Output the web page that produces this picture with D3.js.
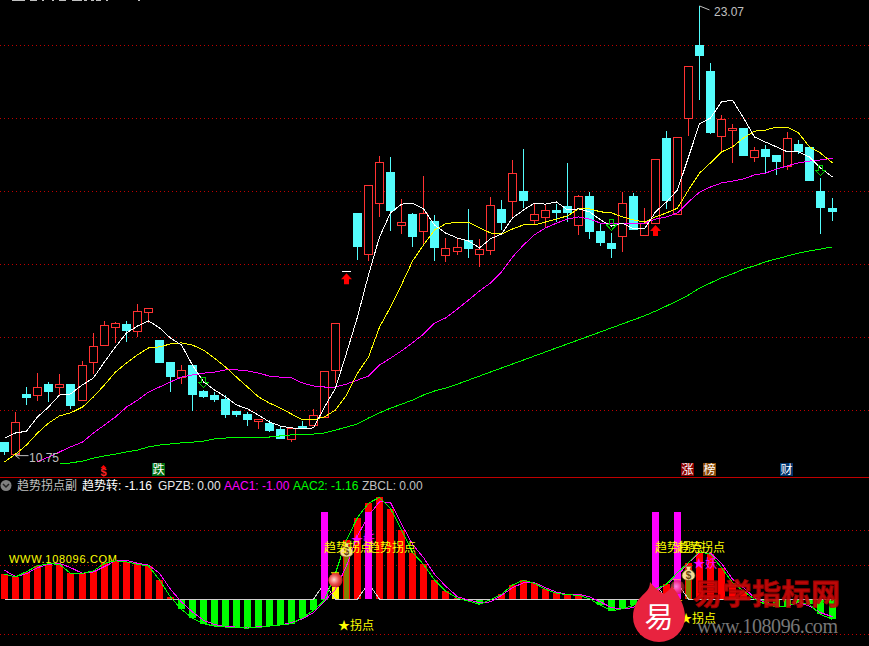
<!DOCTYPE html>
<html>
  <head>
    <meta charset="utf-8" />
    <title>趋势拐点副</title>
    <script src="https://d3js.org/d3.v7.min.js"></script>
    <style>

      body {
        margin: 0;
        background: #000;
      }

      text {
        font-family: "Liberation Sans", "Noto Sans CJK SC", sans-serif;
      }

      .cjk {
        font-family: "Noto Sans CJK SC", sans-serif;
      }

    </style>
  </head>
  <body>

    <svg id="viz"></svg>

    <script>

      // candles, one entry per trading day
      var opens = [
        11.11,10.78,12.44,12.39,12.71,12.62,12.71,12.25,13.32,13.76,
        14.28,14.36,14.15,14.69,13.92,13.32,12.89,13.23,12.52,12.41,
        12.30,11.97,11.89,11.69,11.64,11.48,11.22,11.57,11.58,11.80,
        13.09,15.80,17.40,16.26,17.68,18.52,17.07,17.37,16.91,17.18,
        16.23,16.36,16.66,16.25,16.39,17.51,17.71,18.00,17.19,17.27,
        17.48,17.59,17.07,17.86,16.90,16.58,16.75,17.86,16.79,17.13,
        19.45,17.35,19.99,22.00,21.29,19.50,19.66,19.73,18.94,19.15,
        18.99,18.67,19.29,19.21,18.00,17.53
      ];
      var highs = [
        11.11,11.95,12.62,13.01,12.76,12.99,12.71,13.34,14.10,14.43,
        14.42,14.45,14.90,14.79,13.92,13.32,13.23,13.23,12.55,12.49,
        12.41,11.97,11.95,11.75,11.73,11.56,11.51,11.70,12.02,13.06,
        14.38,15.80,17.40,18.16,18.96,18.92,17.78,17.41,18.41,17.34,
        16.71,16.69,17.51,16.69,17.84,17.75,18.85,19.15,17.64,17.64,
        17.64,18.77,17.89,17.96,17.10,16.85,17.97,17.95,17.53,18.87,
        19.64,19.47,21.42,23.07,21.51,20.07,19.83,19.73,19.21,19.26,
        18.99,19.62,19.40,19.21,18.35,17.81
      ];
      var lows = [
        10.77,10.75,12.14,12.25,12.22,12.40,12.03,12.25,12.99,13.76,
        13.84,13.87,13.99,14.38,13.32,12.50,12.71,11.98,12.34,12.23,
        11.78,11.82,11.56,11.48,11.40,11.21,11.13,11.49,11.58,11.80,
        12.73,15.80,16.11,16.08,17.30,16.90,16.82,16.47,16.52,16.08,
        16.06,16.25,16.16,15.92,16.25,16.93,17.26,17.53,17.07,17.00,
        17.16,17.16,16.80,16.69,16.49,16.17,16.34,16.92,16.79,17.13,
        17.51,17.35,19.52,20.50,19.56,19.07,18.77,18.96,18.80,18.49,
        18.44,18.58,19.01,18.30,16.82,17.18
      ];
      var closes = [
        10.86,11.66,12.36,12.62,12.52,12.70,12.14,13.22,13.75,14.32,
        14.38,14.19,14.70,14.79,13.32,12.93,13.09,12.44,12.38,12.30,
        11.89,11.89,11.75,11.75,11.45,11.23,11.51,11.52,11.85,13.06,
        14.38,15.80,16.49,18.16,18.79,17.48,17.14,16.77,17.39,16.47,
        16.43,16.47,16.44,16.40,17.61,17.15,18.49,17.75,17.36,17.47,
        17.43,17.43,17.86,16.91,16.61,16.44,17.66,16.95,17.12,18.87,
        17.74,19.47,21.42,21.73,19.62,19.97,19.72,18.99,19.12,18.96,
        18.82,19.44,19.09,18.30,17.56,17.45
      ];

      // moving averages on the price panel
      var maWhite = [
        11.23,11.37,11.42,11.81,12.08,12.41,12.44,12.69,12.88,13.32,
        13.73,14.11,14.30,14.44,14.25,13.97,13.78,13.23,12.77,12.55,
        12.36,12.14,12.03,11.86,11.67,11.56,11.51,11.48,11.51,12.08,
        12.60,13.56,14.55,15.70,16.74,17.40,17.64,17.67,17.51,17.07,
        16.85,16.71,16.63,16.44,16.69,16.82,17.26,17.48,17.67,17.64,
        17.70,17.48,17.51,17.43,17.21,17.04,17.12,16.96,16.96,17.43,
        17.70,18.03,18.93,19.84,20.00,20.44,20.49,20.00,19.48,19.34,
        19.21,19.07,19.07,18.93,18.63,18.38
      ];
      var maYellow = [
        10.58,10.79,11.04,11.37,11.64,11.84,11.92,12.08,12.36,12.69,
        13.04,13.29,13.51,13.70,13.73,13.81,13.84,13.78,13.64,13.42,
        13.18,12.90,12.63,12.36,12.19,12.05,11.89,11.73,11.73,11.81,
        12.00,12.41,13.01,13.45,14.27,14.82,15.43,16.08,16.52,16.93,
        17.10,17.15,17.15,16.99,16.85,16.82,16.96,17.07,17.07,17.15,
        17.23,17.32,17.51,17.51,17.43,17.40,17.29,17.21,17.15,17.29,
        17.40,17.53,18.03,18.49,18.77,19.07,19.21,19.45,19.64,19.67,
        19.75,19.75,19.59,19.21,19.04,18.77
      ];
      var maMagenta = [
        null,null,null,10.58,10.71,10.85,10.99,11.12,11.37,11.59,
        11.81,12.08,12.27,12.49,12.63,12.77,12.90,12.96,13.01,13.04,
        13.10,13.10,13.07,13.01,12.93,12.90,12.88,12.74,12.66,12.63,
        12.63,12.71,12.82,12.93,13.23,13.42,13.62,13.84,14.08,14.38,
        14.52,14.77,15.01,15.26,15.48,15.78,16.19,16.52,16.80,16.99,
        17.12,17.23,17.29,17.23,17.12,17.10,17.12,17.12,17.12,17.23,
        17.29,17.40,17.70,17.97,18.11,18.22,18.27,18.33,18.44,18.49,
        18.60,18.69,18.77,18.82,18.85,18.90
      ];
      var maGreen = [
        null,null,null,null,null,10.52,10.55,10.60,10.68,10.74,
        10.79,10.85,10.90,10.99,11.04,11.07,11.10,11.12,11.15,11.21,
        11.23,11.26,11.26,11.26,11.26,11.29,11.32,11.32,11.34,11.37,
        11.45,11.53,11.62,11.78,11.92,12.05,12.16,12.27,12.41,12.52,
        12.60,12.71,12.82,12.93,13.04,13.15,13.26,13.37,13.48,13.59,
        13.70,13.81,13.92,14.03,14.14,14.25,14.36,14.47,14.58,14.71,
        14.85,14.99,15.15,15.34,15.48,15.62,15.73,15.86,15.95,16.06,
        16.14,16.22,16.30,16.36,16.41,16.47
      ];

      // indicator panel
      var aac2 = [
        1.45,1.29,1.60,1.93,2.06,2.02,1.50,1.50,1.64,2.08,
        2.22,2.16,2.02,1.93,1.12,0.13,-0.58,-1.10,-1.41,-1.54,
        -1.60,-1.64,-1.66,-1.62,-1.54,-1.48,-1.41,-1.06,-0.64,-0.05,
        1.52,3.43,4.72,5.55,5.88,5.24,4.01,2.70,2.02,1.12,
        0.48,0.06,-0.10,-0.29,-0.02,0.29,0.83,1.10,0.92,0.58,
        0.35,0.27,0.23,0.04,-0.35,-0.67,-0.54,-0.35,0.10,0.58,
        0.87,1.54,2.12,2.74,2.60,1.83,0.96,0.48,0.00,-0.29,
        -0.42,-0.39,-0.15,-0.29,-0.87,-1.16
      ];
      var aac1 = [
        1.68,1.31,1.48,1.83,2.02,2.08,1.83,1.50,1.58,1.89,
        2.22,2.25,2.08,1.98,1.50,0.58,-0.15,-0.73,-1.21,-1.45,
        -1.58,-1.60,-1.66,-1.58,-1.54,-1.48,-1.35,-1.12,-0.77,-0.10,
        0.58,1.93,3.66,4.82,5.63,5.59,4.34,3.18,2.41,1.45,
        0.77,0.15,-0.04,-0.19,-0.15,0.23,0.67,0.96,0.96,0.67,
        0.42,0.27,0.29,0.15,-0.15,-0.48,-0.54,-0.48,0.00,0.48,
        0.87,1.35,2.12,2.70,2.66,2.08,1.16,0.67,0.10,-0.19,
        -0.39,-0.39,-0.19,-0.39,-0.77,-1.00
      ];

      // signals, as day index and value
      var gpzbDays = [29, 33, 59, 61];
      var gpzbLevel = 5.05;
      var zbclPeak = 0.94;
      var yellowBars = [{day: 30, value: 0.71}];
      var oliveBars = [{day: 31, value: 2.5}, {day: 62, value: 1.16}];
      var bagMarks = [{day: 31, value: 2.85}, {day: 62, value: 1.5}];
      var ballMarks = [{day: 30, value: 1.1, alpha: 1}, {day: 61, value: 0.7, alpha: 0.6}];
      var starDemon = [{day: 32, value: 3.5}, {day: 63, value: 2.1}];
      var starTurn = [{day: 31, value: -1.5}, {day: 62, value: -1.1}, {day: 59, value: -0.35}];
      var downArrows = [{day: 18, price: 12.90}, {day: 55, price: 17.21}, {day: 74, price: 18.71}];
      var upArrows = [{day: 31, price: 15.75}, {day: 59, price: 17.07}];
      var badges = [
        {day: 14, label: "跌", bg: "#006d10"},
        {day: 62, label: "涨", bg: "#8b0000"},
        {day: 64, label: "榜", bg: "#8a4a08"},
        {day: 71, label: "财", bg: "#00336b"}
      ];
      var dollarDay = 9;

      var priceTicks = [12, 14, 16, 18, 20, 22];
      var indicatorTicks = [-2, 2, 4];
      var highLabel = "23.07";
      var lowLabel = "10.75";

      var width = 869;
      var height = 646;

      var svg = d3.select("#viz")
        .attr("width", width)
        .attr("height", height)
        .style("display", "block")
        .style("background", "#000");

      var x = d3.scaleLinear().domain([0, 75]).range([4.3, 831.5]);
      var y = d3.scaleLinear().domain([12, 22]).range([410, 45]);
      var y2 = d3.scaleLinear().domain([-2, 4]).range([634, 530]);

      var days = d3.range(opens.length);

      function cx(i) {
        return Math.round(x(i));
      }

      // dotted grid on both panels
      function grid(scale, ticks) {
        var g = svg.append("g")
          .attr("shape-rendering", "crispEdges")
          .call(d3.axisLeft(scale).tickValues(ticks).tickSize(-width).tickFormat(""));
        g.select(".domain").remove();
        g.selectAll("line")
          .attr("stroke", "#c00000")
          .attr("stroke-dasharray", "1,3");
      }
      grid(y, priceTicks);
      grid(y2, indicatorTicks);

      svg.append("line")
        .attr("x1", 0).attr("x2", width)
        .attr("y1", 477.5).attr("y2", 477.5)
        .attr("stroke", "#c00000")
        .attr("shape-rendering", "crispEdges");

      // bottom edge of a text row that is cut off by the window
      svg.append("line")
        .attr("x1", 12).attr("x2", 140)
        .attr("y1", 0.5).attr("y2", 0.5)
        .attr("stroke", "#c0c0c0")
        .attr("stroke-dasharray", "13,5,7,5,2,8,2,5,7,6,10,2,3,4,3,2,5,5,2,30,3")
        .attr("shape-rendering", "crispEdges");

      // candles
      var upColor = "#ff3232";
      var downColor = "#54fcfc";
      var candles = svg.append("g").attr("shape-rendering", "crispEdges");

      function isFlat(i) {
        return highs[i] === lows[i];
      }

      function candleColor(i) {
        if (isFlat(i)) return "#ffffff";
        return closes[i] >= opens[i] ? upColor : downColor;
      }

      candles.selectAll("line.wick")
        .data(days.filter(function(i) { return !isFlat(i); }))
        .enter().append("line")
        .attr("class", "wick")
        .attr("x1", function(i) { return cx(i) + 0.5; })
        .attr("x2", function(i) { return cx(i) + 0.5; })
        .attr("y1", function(i) { return y(highs[i]); })
        .attr("y2", function(i) { return y(lows[i]); })
        .attr("stroke", candleColor);

      candles.selectAll("rect")
        .data(days.filter(function(i) { return !isFlat(i); }))
        .enter().append("rect")
        .attr("x", function(i) { return cx(i) - 3.5; })
        .attr("width", 8)
        .attr("y", function(i) { return Math.round(y(Math.max(opens[i], closes[i]))) + 0.5; })
        .attr("height", function(i) { return Math.abs(y(opens[i]) - y(closes[i])); })
        .attr("fill", function(i) { return closes[i] > opens[i] ? "#000" : downColor; })
        .attr("stroke", candleColor);

      // a day that opened limit-up is one flat dash
      candles.selectAll("line.flat")
        .data(days.filter(isFlat))
        .enter().append("line")
        .attr("class", "flat")
        .attr("x1", function(i) { return cx(i) - 4; })
        .attr("x2", function(i) { return cx(i) + 5; })
        .attr("y1", function(i) { return Math.round(y(opens[i])) + 0.5; })
        .attr("y2", function(i) { return Math.round(y(opens[i])) + 0.5; })
        .attr("stroke", candleColor);

      // moving averages
      function drawLine(values, scale, color) {
        var line = d3.line()
          .defined(function(d) { return d !== null; })
          .x(function(d, i) { return cx(i) + 0.5; })
          .y(function(d) { return scale(d); });
        return svg.append("path")
          .attr("d", line(values))
          .attr("fill", "none")
          .attr("stroke", color)
          .attr("stroke-width", 1)
          .attr("shape-rendering", "crispEdges");
      }
      drawLine(maGreen, y, "#00ff00");
      drawLine(maMagenta, y, "#ff00ff");
      drawLine(maYellow, y, "#ffff00");
      drawLine(maWhite, y, "#ffffff");

      // arrows on the price panel
      svg.selectAll("path.up")
        .data(upArrows)
        .enter().append("path")
        .attr("class", "up")
        .attr("d", function(d) {
          var a = cx(d.day) + 0.5, b = y(d.price);
          return "M" + a + "," + b + "l5.5,6h-3v5h-5v-5h-3z";
        })
        .attr("fill", "#ff0000");

      svg.selectAll("path.down")
        .data(downArrows)
        .enter().append("path")
        .attr("class", "down")
        .attr("d", function(d) {
          var a = cx(d.day) + 0.5, b = y(d.price);
          return "M" + (a - 2) + "," + b + "h4v5h3l-5,5.5l-5,-5.5h3z";
        })
        .attr("fill", "none")
        .attr("stroke", "#00d000")
        .attr("shape-rendering", "crispEdges");

      // high and low flags
      function flag(day, price, path, label, lx, ly) {
        svg.append("path")
          .attr("d", "M" + (cx(day) + 0.5) + "," + y(price) + path)
          .attr("fill", "none")
          .attr("stroke", "#c0c0c0");
        svg.append("text")
          .attr("x", lx).attr("y", ly)
          .attr("fill", "#c0c0c0")
          .attr("font-size", 12)
          .text(label);
      }
      flag(63, 23.07, "l10,4M0,0", highLabel, 714, 16);
      flag(1, 10.75, "m0,0l4,-3m-4,3l4,3m-4,-3h13", lowLabel, 29, 462);

      // badges in the bottom row of the price panel
      svg.selectAll("rect.badge")
        .data(badges)
        .enter().append("rect")
        .attr("class", "badge")
        .attr("x", function(d) { return cx(d.day) - 7; })
        .attr("y", 463)
        .attr("width", 13)
        .attr("height", 13)
        .attr("fill", function(d) { return d.bg; });

      svg.selectAll("text.badge")
        .data(badges)
        .enter().append("text")
        .attr("class", "badge cjk")
        .attr("x", function(d) { return cx(d.day) - 0.5; })
        .attr("y", 474)
        .attr("text-anchor", "middle")
        .attr("font-size", 12)
        .attr("fill", "#fff")
        .text(function(d) { return d.label; });

      svg.append("path")
        .attr("d", "M" + (cx(dollarDay) - 0.5) + ",465l3,3h-6z")
        .attr("fill", "#ff0000");
      svg.append("text")
        .attr("x", cx(dollarDay) - 0.5)
        .attr("y", 476)
        .attr("text-anchor", "middle")
        .attr("font-size", 11)
        .attr("font-weight", "bold")
        .attr("fill", "#ff2020")
        .text("$");

      // indicator header
      var headerNames = ["趋势拐点副", "趋势转:", "GPZB:", "AAC1:", "AAC2:", "ZBCL:"];
      var headerValues = ["", "-1.16", "0.00", "-1.00", "-1.16", "0.00"];
      var headerX = [17, 82, 158, 224, 293, 362];
      var headerColors = ["#c0c0c0", "#ffffff", "#e8e8e8", "#ff00ff", "#00ff00", "#c0c0c0"];

      svg.append("circle")
        .attr("cx", 6).attr("cy", 485.5).attr("r", 5.5)
        .attr("fill", "#808080");
      svg.append("path")
        .attr("d", "M3,484l3,3l3,-3")
        .attr("fill", "none")
        .attr("stroke", "#222")
        .attr("stroke-width", 1.5);

      svg.selectAll("text.header")
        .data(headerNames)
        .enter().append("text")
        .attr("class", "header")
        .attr("x", function(d, i) { return headerX[i]; })
        .attr("y", 490)
        .attr("font-size", 12)
        .attr("fill", function(d, i) { return headerColors[i]; })
        .text(function(d, i) { return d + (headerValues[i] ? " " + headerValues[i] : ""); });

      svg.append("text")
        .attr("x", 9).attr("y", 563)
        .attr("font-size", 11)
        .attr("textLength", 108)
        .attr("fill", "#ffff00")
        .text("WWW.108096.COM");

      // histogram
      var zero = y2(0);
      var bars = svg.append("g").attr("shape-rendering", "crispEdges");

      function barRect(sel, valueOf, w) {
        sel.attr("x", function(d) { return cx(d.day) - Math.floor(w / 2); })
          .attr("width", w)
          .attr("y", function(d) { return Math.min(y2(valueOf(d)), zero); })
          .attr("height", function(d) { return Math.abs(y2(valueOf(d)) - zero); });
      }

      bars.selectAll("rect.hist")
        .data(aac2.map(function(v, i) { return {day: i, value: v}; }))
        .enter().append("rect")
        .attr("class", "hist")
        .call(barRect, function(d) { return d.value; }, 7)
        .attr("fill", function(d) { return d.value >= 0 ? "#ff0000" : "#00ff00"; });

      bars.selectAll("rect.yellow")
        .data(yellowBars)
        .enter().append("rect")
        .attr("class", "yellow")
        .call(barRect, function(d) { return d.value; }, 7)
        .attr("fill", "#ffff00");

      bars.selectAll("rect.olive")
        .data(oliveBars)
        .enter().append("rect")
        .attr("class", "olive")
        .call(barRect, function(d) { return d.value; }, 5)
        .attr("fill", "#808000");

      // ZBCL sits on zero and lifts one step at each GPZB day
      var zbcl = days.map(function(i) {
        return gpzbDays.indexOf(i) >= 0 ? zbclPeak : 0;
      });
      drawLine(zbcl, y2, "#d0d0d0");

      var gpzb = svg.append("g").attr("shape-rendering", "crispEdges");
      gpzb.selectAll("rect")
        .data(gpzbDays.map(function(d) { return {day: d}; }))
        .enter().append("rect")
        .call(barRect, function() { return gpzbLevel; }, 7)
        .attr("fill", "#ff00ff");

      drawLine(aac1, y2, "#ff00ff");
      drawLine(aac2, y2, "#00ff00");

      // icons
      var defs = svg.append("defs");
      var ball = defs.append("radialGradient")
        .attr("id", "ball")
        .attr("cx", "40%").attr("cy", "45%").attr("r", "60%");
      ball.append("stop").attr("offset", "0%").attr("stop-color", "#ffd8d0");
      ball.append("stop").attr("offset", "60%").attr("stop-color", "#e84a4a");
      ball.append("stop").attr("offset", "100%").attr("stop-color", "#b81c1c");

      svg.selectAll("rect.cap")
        .data(ballMarks)
        .enter().append("rect")
        .attr("class", "cap")
        .attr("x", function(d) { return cx(d.day) - 4; })
        .attr("y", function(d) { return y2(d.value) - 8; })
        .attr("width", 8)
        .attr("height", 1)
        .attr("fill", "#ffff00")
        .attr("opacity", function(d) { return d.alpha; });

      svg.selectAll("circle.ball")
        .data(ballMarks)
        .enter().append("circle")
        .attr("class", "ball")
        .attr("cx", function(d) { return cx(d.day) + 0.5; })
        .attr("cy", function(d) { return y2(d.value); })
        .attr("r", 7)
        .attr("fill", "url(#ball)")
        .attr("opacity", function(d) { return d.alpha; });

      var bags = svg.selectAll("g.bag")
        .data(bagMarks)
        .enter().append("g")
        .attr("class", "bag")
        .attr("transform", function(d) {
          return "translate(" + (cx(d.day) + 0.5) + "," + y2(d.value) + ")";
        });
      bags.append("path")
        .attr("d", "M-3,-7h6l-1.5,3C5,-2 6.5,0 6.5,2C6.5,6 3,7 0,7C-3,7 -6.5,6 -6.5,2C-6.5,0 -5,-2 -1.5,-4z")
        .attr("fill", "#f6dc96")
        .attr("stroke", "#7c5a14")
        .attr("stroke-width", 0.7);
      bags.append("text")
        .attr("y", 5.5)
        .attr("text-anchor", "middle")
        .attr("font-size", 10)
        .attr("font-weight", "bold")
        .attr("fill", "#6a4a10")
        .text("$");

      svg.selectAll("text.demon")
        .data(starDemon)
        .enter().append("text")
        .attr("class", "demon cjk")
        .attr("x", function(d) { return cx(d.day) - 6; })
        .attr("y", function(d) { return y2(d.value) + 5; })
        .attr("font-size", 12)
        .attr("fill", "#ff00ff")
        .text("★妖");

      // signal texts
      svg.selectAll("text.turn")
        .data(gpzbDays)
        .enter().append("text")
        .attr("class", "turn cjk")
        .attr("x", function(d) { return cx(d); })
        .attr("y", 552)
        .attr("font-size", 12)
        .attr("fill", "#ffff00")
        .text("趋势拐点");

      svg.selectAll("text.star")
        .data(starTurn)
        .enter().append("text")
        .attr("class", "star cjk")
        .attr("x", function(d) { return cx(d.day) - 8; })
        .attr("y", function(d) { return y2(d.value) + 4.5; })
        .attr("font-size", 12)
        .attr("fill", "#ffff00")
        .text("★拐点");

      // watermark
      svg.append("text")
        .attr("x", 693).attr("y", 605)
        .attr("font-size", 29)
        .attr("font-weight", "bold")
        .attr("class", "cjk")
        .attr("textLength", 147)
        .attr("fill", "#cc0808")
        .attr("stroke", "#a80404")
        .attr("stroke-width", 0.8)
        .attr("opacity", 0.92)
        .text("易学指标网");

      svg.append("text")
        .attr("x", 697).attr("y", 633)
        .attr("font-size", 20)
        .attr("textLength", 141)
        .attr("fill", "#777")
        .style("font-family", "'Liberation Serif', serif")
        .text("www.108096.com");

      svg.append("path")
        .attr("d", "M650,582C655,588 660,592 664,594C667,592 670,589 672,586C678,594 685,605 685,617A26,25 0 0 1 633,617C633,606 638,600 641,597C645,592 650,590 650,582Z")
        .attr("fill", "#e8233f");

      svg.append("text")
        .attr("x", 659).attr("y", 628)
        .attr("text-anchor", "middle")
        .attr("class", "cjk")
        .attr("font-size", 29)
        .attr("fill", "#fff")
        .text("易");

    </script>
  </body>
</html>
